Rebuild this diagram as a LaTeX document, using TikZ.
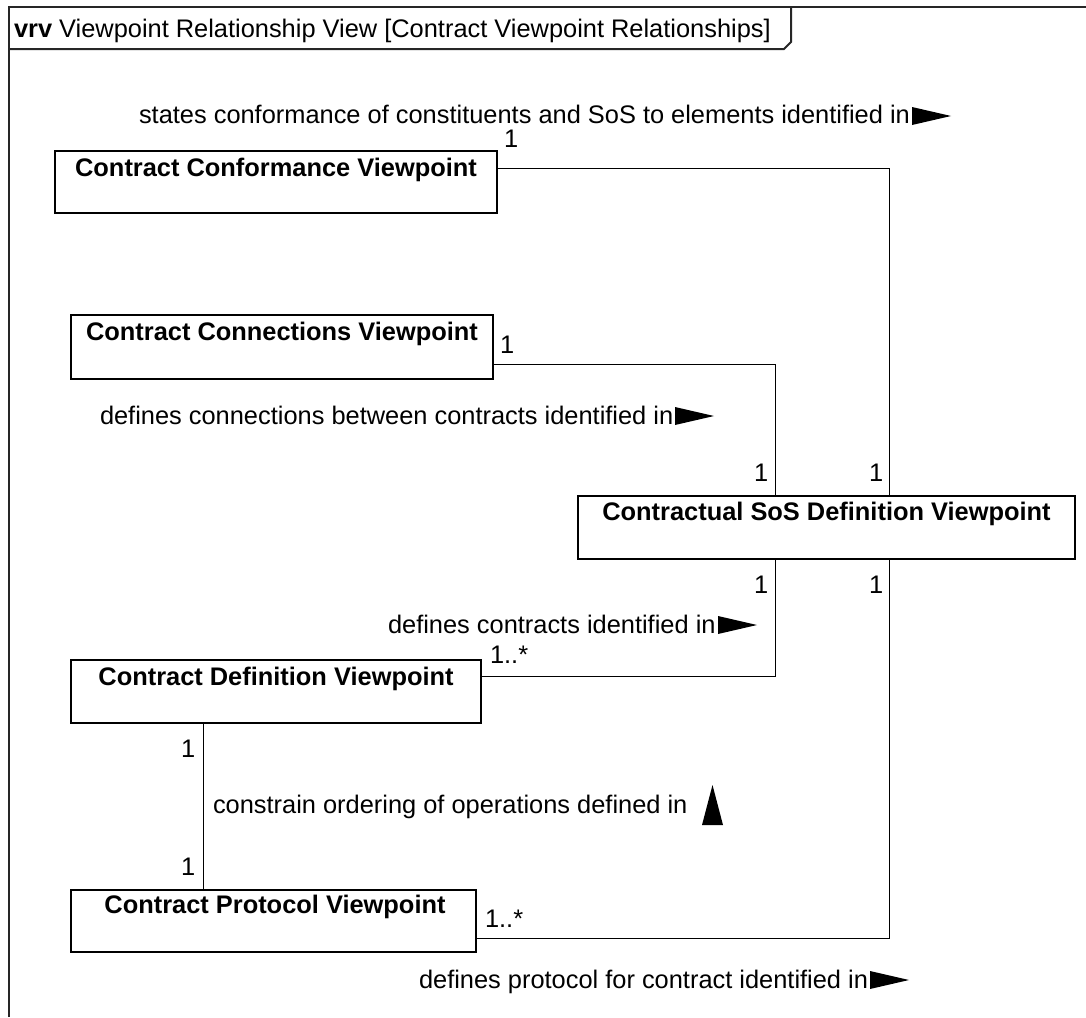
\documentclass[tikz,border=0pt]{standalone}
\usepackage{fontspec}
\setmainfont{Liberation Sans}
\usetikzlibrary{calc}
\begin{document}
\begin{tikzpicture}[x=1pt,y=-1pt,
  every node/.style={font=\fontsize{25.4}{30}\selectfont, inner sep=0pt, outer sep=0pt},
  vpbox/.style={draw=black, line width=2pt, rectangle, anchor=north west},
  vptitle/.style={font=\fontsize{25.4}{30}\selectfont\bfseries, anchor=base},
  lbl/.style={anchor=base west},
  link/.style={draw=black, line width=1pt},
  frameline/.style={draw=black!85, line width=2pt},
  dirmark/.style={fill=black, draw=none}
]
\useasboundingbox (0,0) rectangle (1086,1017);

% diagram frame and its heading tab
\draw[frameline] (8.5,1017) -- (8.5,7) -- (1086,7);
\draw[frameline] (8.5,49) -- (784,49) -- (791,42) -- (791,7);
\node[lbl] (head) at (14,37) {\textbf{vrv} Viewpoint Relationship View [Contract Viewpoint Relationships]};

% viewpoints
\node[vpbox, minimum width=442pt, minimum height=62pt] (conf) at (55,151) {};
\node[vptitle] (confT) at (276,176) {Contract Conformance Viewpoint};

\node[vpbox, minimum width=422pt, minimum height=64pt] (conn) at (71,315) {};
\node[vptitle] (connT) at (282,340) {Contract Connections Viewpoint};

\node[vpbox, minimum width=497pt, minimum height=63pt] (sos) at (578,496) {};
\node[vptitle] (sosT) at (826.5,520) {Contractual SoS Definition Viewpoint};

\node[vpbox, minimum width=410pt, minimum height=63pt] (def) at (71,660) {};
\node[vptitle] (defT) at (276,685) {Contract Definition Viewpoint};

\node[vpbox, minimum width=405pt, minimum height=62pt] (prot) at (71,890) {};
\node[vptitle] (protT) at (275,913) {Contract Protocol Viewpoint};

% routing columns
\coordinate (colA) at (775,0);
\coordinate (colB) at (889,0);
\coordinate (colC) at (203,0);

% associations
\draw[link] ($(conf.north east)+(0,17)$) -| (colB |- sos.north);
\draw[link] ($(conn.north east)+(0,49)$) -| (colA |- sos.north);
\draw[link] (colA |- sos.south) |- ($(def.north east)+(0,16)$);
\draw[link] (colB |- sos.south) |- ($(prot.north east)+(0,48)$);
\draw[link] (colC |- def.south) -- (colC |- prot.north);

% multiplicities
\node[lbl] (m1) at (504,147) {1};
\node[lbl] (m2) at (500,353) {1};
\node[lbl] (m3) at (754,481) {1};
\node[lbl] (m4) at (869,481) {1};
\node[lbl] (m5) at (754,593) {1};
\node[lbl] (m6) at (869,593) {1};
\node[lbl] (m7) at (490,663) {1..*};
\node[lbl] (m8) at (485,927) {1..*};
\node[lbl] (m9) at (181,757) {1};
\node[lbl] (m10) at (181,875) {1};

% association names with reading direction
\node[lbl] (n1) at (139,123) {states conformance of constituents and SoS to elements identified in};
\fill[dirmark] (912,107) -- (951,116) -- (912,125) -- cycle;

\node[lbl] (n2) at (100,424) {defines connections between contracts identified in};
\fill[dirmark] (675,407) -- (714,416) -- (675,425) -- cycle;

\node[lbl] (n3) at (388,633) {defines contracts identified in};
\fill[dirmark] (718,616) -- (757,625) -- (718,634) -- cycle;

\node[lbl] (n4) at (213,813) {constrain ordering of operations defined in};
\fill[dirmark] (702,825) -- (712.5,785) -- (723,825) -- cycle;

\node[lbl] (n5) at (419,988) {defines protocol for contract identified in};
\fill[dirmark] (870,971) -- (909,980) -- (870,989) -- cycle;
\end{tikzpicture}
\end{document}
